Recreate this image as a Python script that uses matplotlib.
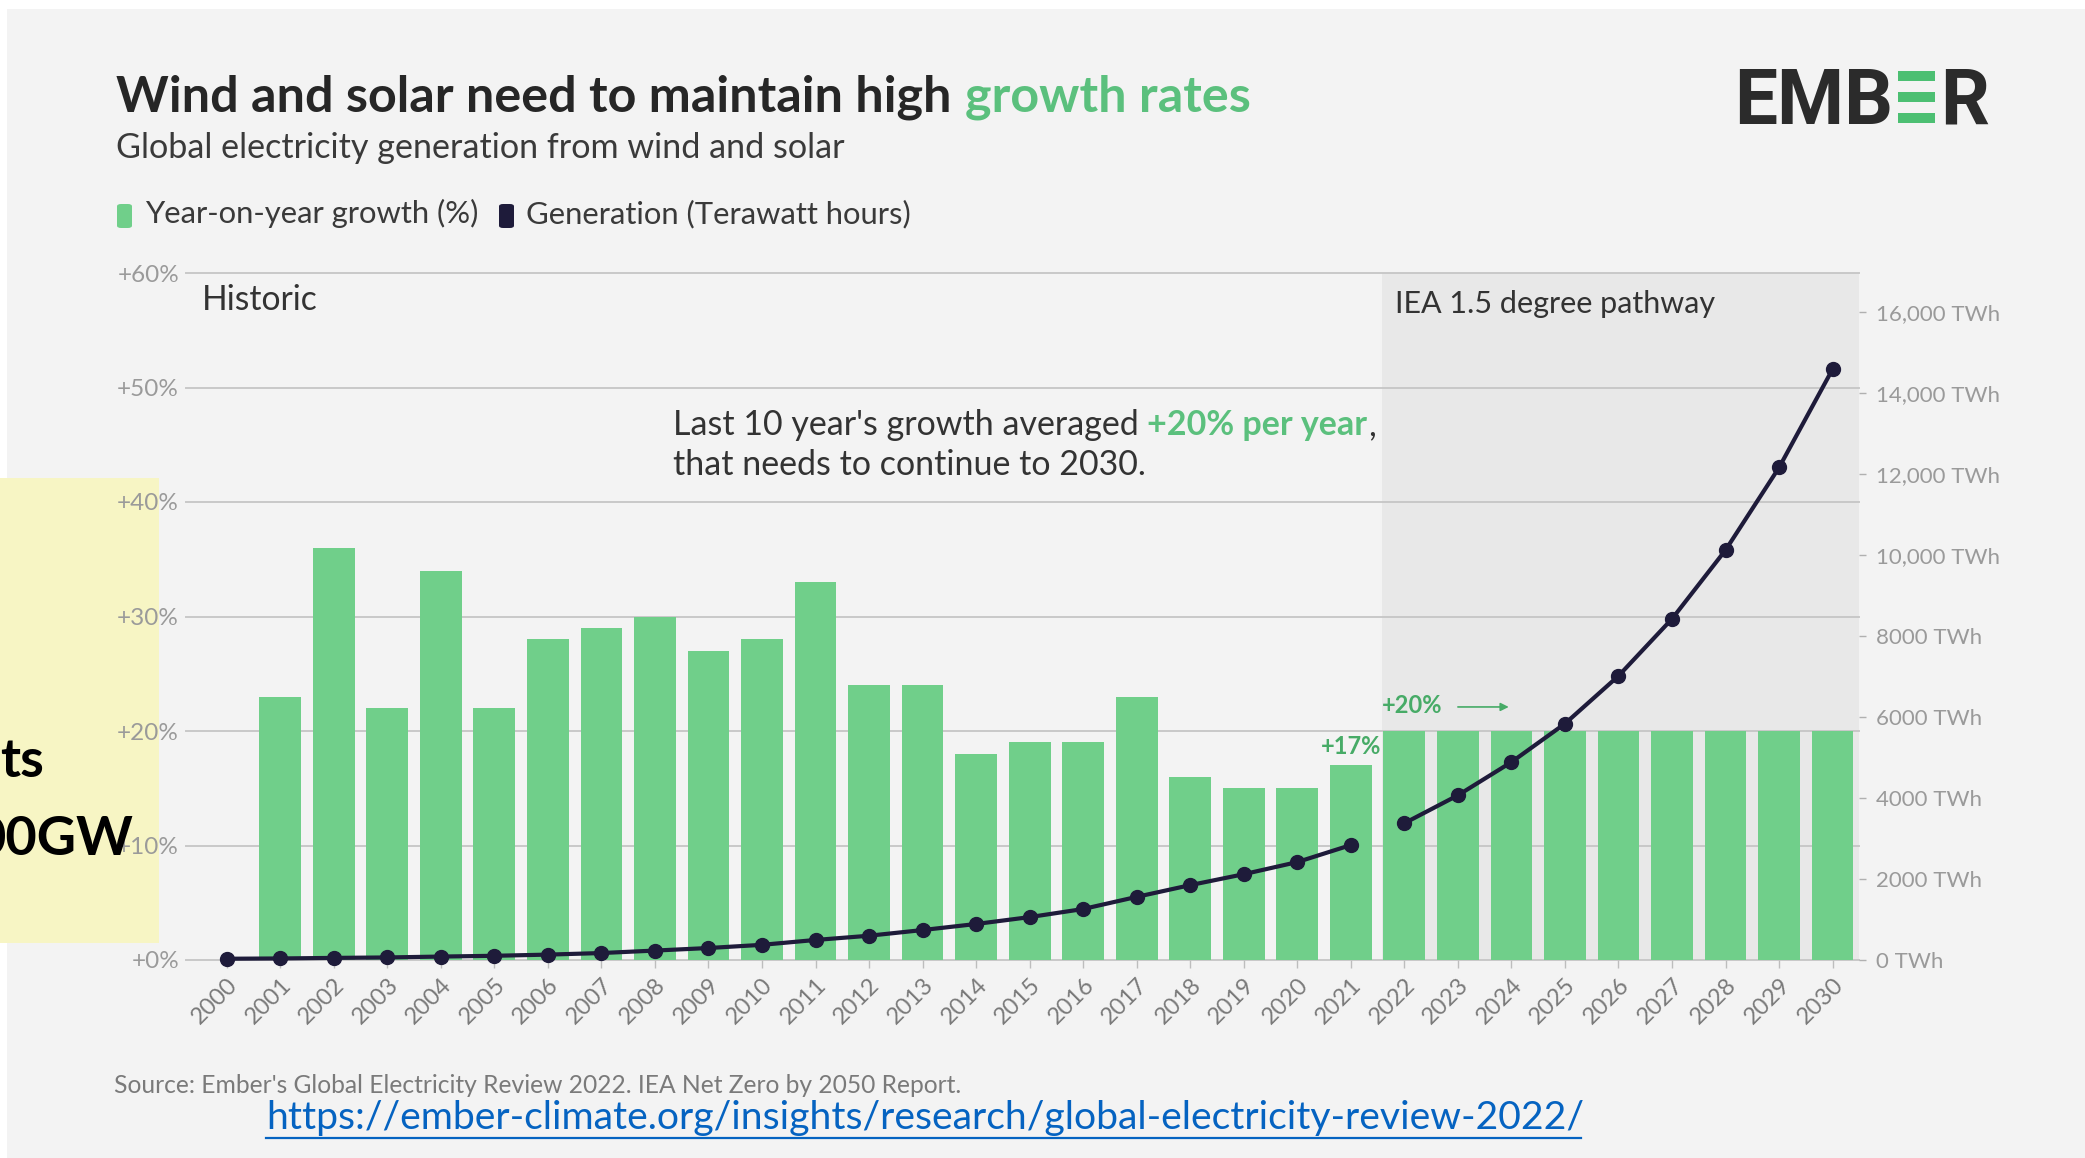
import matplotlib
matplotlib.use('Agg')
import matplotlib.pyplot as plt
from matplotlib.patches import Rectangle, FancyBboxPatch
from matplotlib.lines import Line2D

# ---------------- data ----------------
years = list(range(2000, 2031))
year_labels = [str(y) for y in years]
growth_years = list(range(2001, 2031))
growth_pct = [23, 36, 22, 34, 22, 28, 29, 30, 27, 28, 33, 24, 24, 18, 19, 19,
              23, 16, 15, 15, 17, 20, 20, 20, 20, 20, 20, 20, 20, 20]
hist_years = list(range(2000, 2022))
hist_twh = [31, 38, 52, 63, 85, 104, 133, 172, 233, 296, 375, 495, 600, 740,
            890, 1060, 1260, 1560, 1850, 2120, 2420, 2840]
path_years = list(range(2022, 2031))
path_twh = [3380, 4070, 4890, 5840, 7020, 8430, 10130, 12170, 14600]
pct_ticks = [0, 10, 20, 30, 40, 50, 60]
pct_labels = ['+0%', '+10%', '+20%', '+30%', '+40%', '+50%', '+60%']
twh_ticks = [0, 2000, 4000, 6000, 8000, 10000, 12000, 14000, 16000]
twh_labels = ['0 TWh', '2000 TWh', '4000 TWh', '6000 TWh', '8000 TWh',
              '10,000 TWh', '12,000 TWh', '14,000 TWh', '16,000 TWh']

# ---------------- style ----------------
W, H, DPI = 2085, 1158, 100
BG = '#f3f3f3'
GREEN_BAR = '#70cf8a'
GREEN_TXT = '#5bc07d'
GREEN_ANN = '#47ab67'
NAVY = '#1e1b3a'
DARK = '#262626'

plt.rcParams['font.family'] = ['Lato', 'DejaVu Sans']

fig = plt.figure(figsize=(W / DPI, H / DPI), dpi=DPI, facecolor=BG)


def fx(x):
    return x / W


def fy(y):
    return 1 - y / H


def txt(x, y, s, size, color, weight='normal', ha='left', va='baseline', **kw):
    return fig.text(fx(x), fy(y), s, fontsize=size, color=color,
                    fontweight=weight, ha=ha, va=va, **kw)


def width_of(t):
    r = fig.canvas.get_renderer()
    return t.get_window_extent(r).width


def fit(t, width):
    t.set_fontsize(t.get_fontsize() * width / width_of(t))
    return t


# white slide margins
fig.patches.append(Rectangle((0, fy(9)), 1, 9 / H, transform=fig.transFigure,
                             facecolor='white', edgecolor='none', zorder=-3))
fig.patches.append(Rectangle((0, 0), 7 / W, 1, transform=fig.transFigure,
                             facecolor='white', edgecolor='none', zorder=-3))
# yellow slide box (behind the chart labels)
fig.patches.append(Rectangle((0, fy(943)), 159 / W, (943 - 478) / H,
                             transform=fig.transFigure, facecolor='#f7f5c4',
                             edgecolor='none', zorder=-2))

# ---------------- axes ----------------
L, R, T, B = 186, 1859, 273, 960
ax = fig.add_axes([fx(L), fy(B), (R - L) / W, (B - T) / H])
ax.set_facecolor('none')
x0 = 2000 - (226.7 - L) / 53.55
x1 = 2030 + (R - 1832.6) / 53.55
ax.set_xlim(x0, x1)
ax.set_ylim(0, 60)

# future pathway shading
ax.axvspan(2021.58, x1, color='#e8e8e8', zorder=0, lw=0)
for v in pct_ticks:
    ax.axhline(v, color='#c8c8c8', lw=1.4, zorder=1, clip_on=False)

ax.bar(growth_years, growth_pct, width=0.78, color=GREEN_BAR, zorder=2)

for s in ax.spines.values():
    s.set_visible(False)
ax.set_yticks(pct_ticks, pct_labels)
ax.tick_params(axis='y', length=0, pad=5, labelsize=17.5, labelcolor='#9a9a9a')
ax.set_xticks(years, year_labels, rotation=45, ha='right', va='top',
              rotation_mode='anchor')
ax.tick_params(axis='x', length=6, width=1, color='#bdbdbd', pad=4,
               labelsize=17, labelcolor='#7a7a7a')

ax2 = ax.twinx()
ax2.set_facecolor('none')
ax2.set_ylim(0, 16000 * (B - T) / (B - 312.5))
ax2.set_xlim(x0, x1)
for s in ax2.spines.values():
    s.set_visible(False)
ax2.set_yticks(twh_ticks, twh_labels)
ax2.tick_params(axis='y', length=5, width=1, color='#b0b0b0', pad=7,
                labelsize=16, labelcolor='#9a9a9a')
ax2.plot(hist_years, hist_twh, color=NAVY, lw=3, marker='o', ms=10,
         zorder=5, clip_on=False)
ax2.plot(path_years, path_twh, color=NAVY, lw=3, marker='o', ms=10,
         zorder=5, clip_on=False)

# annotations in the chart
ax.annotate('+17%', xy=(2021, growth_pct[hist_years.index(2021) - 1]),
            xytext=(0, 7), textcoords='offset pixels', ha='center',
            va='bottom', fontsize=17, fontweight='bold', color=GREEN_ANN,
            zorder=6)
ax.annotate('+20%', xy=(2022 - 0.39, 20), xytext=(-2, 14),
            textcoords='offset pixels', ha='left', va='bottom', fontsize=17,
            fontweight='bold', color=GREEN_ANN, zorder=6)
ax.annotate('', xy=(2023.95, 22.1), xytext=(2023.0, 22.1),
            arrowprops=dict(arrowstyle='-|>', color=GREEN_ANN, lw=1.2,
                            mutation_scale=12, shrinkA=0, shrinkB=0),
            zorder=6)

t = txt(202, 310, 'Historic', 20, '#333333')
fit(t, 116)
t = txt(1395, 313, 'IEA 1.5 degree pathway', 20, '#333333')
fit(t, 321)

a1 = txt(673, 435, "Last 10 year's growth averaged", 20, '#333333')
fit(a1, 466)
fs = a1.get_fontsize()
a2 = txt(1147, 435, '+20% per year', fs, GREEN_TXT, weight='bold')
a3 = txt(1147 + width_of(a2) + 1, 435, ',', fs, '#333333')
txt(673, 475, 'that needs to continue to 2030.', fs, '#333333')

# ---------------- header ----------------
t1 = txt(116, 112, 'Wind and solar need to maintain high', 30, DARK, weight='bold')
fit(t1, 833)
t2 = txt(965, 112, 'growth rates', t1.get_fontsize(), GREEN_TXT, weight='bold')

st = txt(116, 158, 'Global electricity generation from wind and solar', 18, '#3a3a3a')
fit(st, 728)

fig.patches.append(FancyBboxPatch((fx(117), fy(228)), 15 / W, 24 / H,
                                  boxstyle='round,pad=0,rounding_size=0.002',
                                  transform=fig.transFigure,
                                  facecolor=GREEN_BAR, edgecolor='none'))
l1 = txt(145, 223, 'Year-on-year growth (%)', 18, '#3a3a3a')
fit(l1, 334)
fig.patches.append(FancyBboxPatch((fx(499), fy(228)), 15 / W, 24 / H,
                                  boxstyle='round,pad=0,rounding_size=0.002',
                                  transform=fig.transFigure,
                                  facecolor=NAVY, edgecolor='none'))
l2 = txt(526, 223, 'Generation (Terawatt hours)', l1.get_fontsize(), '#3a3a3a')

# EMBER logo
lg = txt(1734, 124, 'EMB', 40, '#2b2b2b', weight='bold', family='Roboto')
fit(lg, 159)
for top in (71, 92, 113):
    fig.patches.append(Rectangle((fx(1898), fy(top + 10)), 37 / W, 10 / H,
                                 transform=fig.transFigure,
                                 facecolor='#4cbf72', edgecolor='none'))
txt(1940, 124, 'R', lg.get_fontsize(), '#2b2b2b', weight='bold', family='Roboto')

# ---------------- footer ----------------
src = txt(114, 1093, "Source: Ember's Global Electricity Review 2022. IEA Net Zero by 2050 Report.",
          14, '#7a7a7a')
fit(src, 851)
url = txt(266, 1129, 'https://ember-climate.org/insights/research/global-electricity-review-2022/',
          26, '#0563c1')
fit(url, 1315)
fig.lines.append(Line2D([fx(266), fx(1581)], [fy(1138), fy(1138)],
                        transform=fig.transFigure, color='#0563c1', lw=1.6))

# slide text in the yellow box (partially cut off at left edge, as in the slide)
txt(44, 777, 'ts', 39, 'black', weight='bold', ha='right', zorder=10)
txt(133, 855, '00GW', 39, 'black', weight='bold', ha='right', zorder=10)

fig.savefig('out.png', dpi=DPI, facecolor=BG)
